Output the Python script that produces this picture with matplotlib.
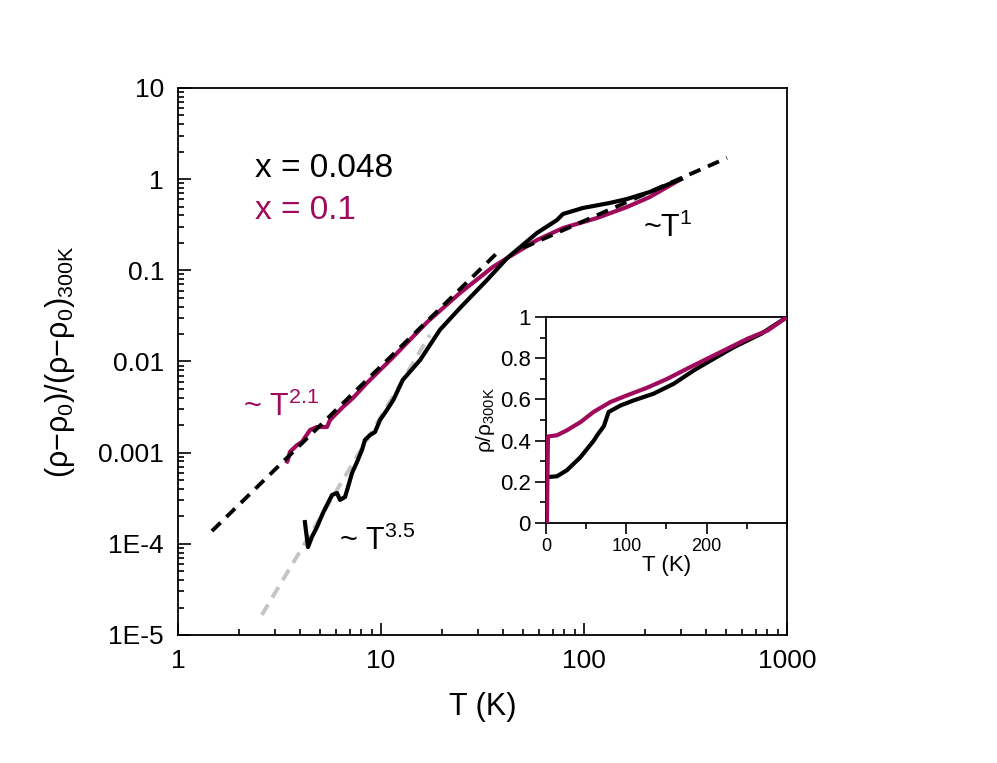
import numpy as np
import matplotlib as mpl
mpl.use('Agg')
import matplotlib.pyplot as plt
from matplotlib.ticker import FixedLocator, FixedFormatter, LogLocator, NullFormatter, MultipleLocator

mpl.rcParams.update({'font.family': ['Liberation Sans', 'DejaVu Sans'],
                     'mathtext.fontset': 'custom',
                     'mathtext.rm': 'Liberation Sans',
                     'mathtext.it': 'Liberation Sans:italic',
                     'mathtext.bf': 'Liberation Sans:bold'})

MAG = '#a00a5c'

# x = 0.048, normalised (rho-rho0)/(rho-rho0)_300K
T_048 = [4.22, 4.37, 4.57, 4.84, 5.18, 5.48, 5.74, 6.07, 6.28, 6.65, 6.88, 7.20, 7.62,
         8.06, 8.34, 8.83, 9.34, 9.89, 10.7, 11.5, 12.8, 15.6, 19.5, 24.5, 33.3, 41.8,
         58.7, 73.6, 78.8, 98.9, 134, 163, 211, 300]
r_048 = [1.73e-4, 9.2e-5, 1.19e-4, 1.53e-4, 2.18e-4, 2.80e-4, 3.43e-4, 3.61e-4, 3.03e-4,
         3.26e-4, 4.20e-4, 5.98e-4, 7.90e-4, 1.07e-3, 1.38e-3, 1.56e-3, 1.68e-3, 2.28e-3,
         2.94e-3, 3.78e-3, 6.27e-3, 0.0104, 0.0222, 0.0386, 0.0783, 0.136, 0.257, 0.356,
         0.415, 0.483, 0.548, 0.606, 0.723, 1.0]

# x = 0.1
T_01 = [3.45, 3.48, 3.56, 3.86, 4.08, 4.47, 4.84, 5.42, 5.61, 6.50, 7.28, 8.53, 11.5, 16.9,
        24.5, 35.6, 41.8, 58.7, 78.8, 116, 163, 211, 300]
r_01 = [8.0e-4, 8.3e-4, 1.02e-3, 1.21e-3, 1.31e-3, 1.77e-3, 1.91e-3, 1.91e-3, 2.28e-3,
        3.17e-3, 3.98e-3, 5.81e-3, 0.0112, 0.0271, 0.0564, 0.109, 0.136, 0.215, 0.291,
        0.375, 0.495, 0.637, 1.0]

# power-law guides (end points)
fit21_T = [1.47, 37.3]
fit21_r = [1.38e-4, 0.155]
fit1_T = [50, 506]
fit1_r = [0.176, 1.71]
fit35_T = [2.59, 17.4]
fit35_r = [1.66e-5, 0.0195]

# inset: rho/rho_300K vs T
Ti_048 = [2.0, 13.7, 26, 43, 59.5, 63.7, 72, 78, 93, 109, 134, 159, 184, 209, 234, 268, 300]
ri_048 = [0.223, 0.227, 0.256, 0.32, 0.40, 0.426, 0.47, 0.539, 0.571, 0.595, 0.628, 0.676,
          0.741, 0.798, 0.854, 0.919, 1.0]
Ti_01 = [1.2, 2.5, 13.7, 26, 43, 59.5, 80, 101, 126, 151, 176, 205, 234, 251, 276, 300]
ri_01 = [0.0, 0.42, 0.426, 0.45, 0.49, 0.54, 0.587, 0.62, 0.657, 0.70, 0.75, 0.806, 0.862,
         0.895, 0.935, 1.0]

yticks = [1e-5, 1e-4, 1e-3, 1e-2, 1e-1, 1, 10]
ylabels = ['1E-5', '1E-4', '0.001', '0.01', '0.1', '1', '10']
xticks = [1, 10, 100, 1000]
xlabels = ['1', '10', '100', '1000']

fig = plt.figure(figsize=(9.97, 7.63), dpi=100)
ax = fig.add_axes([0.1785, 0.1678, 0.6109, 0.7169])

dash = (3.1, 2.1)
ax.plot(fit35_T, fit35_r, color='#c4c4c4', lw=2.8, dashes=dash, zorder=1)
ax.plot(T_01, r_01, color=MAG, lw=3, zorder=2)
ax.plot(fit21_T, fit21_r, color='black', lw=2.8, dashes=dash, zorder=3)
ax.plot(fit1_T, fit1_r, color='black', lw=2.8, dashes=dash, zorder=3)
ax.plot(T_048, r_048, color='black', lw=3, zorder=4)

ax.set_xscale('log')
ax.set_yscale('log')
ax.set_xlim(1, 1000)
ax.set_ylim(1e-5, 10)
ax.yaxis.set_major_locator(FixedLocator(yticks))
ax.yaxis.set_major_formatter(FixedFormatter(ylabels))
ax.xaxis.set_major_locator(FixedLocator(xticks))
ax.xaxis.set_major_formatter(FixedFormatter(xlabels))
ax.xaxis.set_minor_locator(LogLocator(base=10, subs=np.arange(2, 10)))
ax.yaxis.set_minor_locator(LogLocator(base=10, subs=np.arange(2, 10)))
ax.xaxis.set_minor_formatter(NullFormatter())
ax.yaxis.set_minor_formatter(NullFormatter())
ax.tick_params(which='both', direction='in', top=False, right=False, labelsize=19, width=1.2)
ax.tick_params(which='major', length=9, pad=10)
ax.tick_params(which='minor', length=4.5)
for s in ax.spines.values():
    s.set_linewidth(1.3)

ax.set_xlabel('T (K)', fontsize=22, labelpad=14)
ax.set_ylabel('(ρ\u2212ρ$_0$)/(ρ\u2212ρ$_0$)$_{\\mathrm{300K}}$', fontsize=22, labelpad=15)

ax.text(0.127, 0.853, 'x = 0.048', transform=ax.transAxes, fontsize=24, color='black', va='center')
ax.text(0.127, 0.776, 'x = 0.1', transform=ax.transAxes, fontsize=24, color=MAG, va='center')
ax.text(2.1, 3.17e-3, r'~ T$^{\mathrm{2.1}}$', fontsize=22, color=MAG, va='center')
ax.text(6.2, 1.07e-4, r'~ T$^{\mathrm{3.5}}$', fontsize=22, color='black', va='center')
ax.text(195, 0.29, r'~T$^{\mathrm{1}}$', fontsize=22, color='black', va='center')

# inset
ins = fig.add_axes([0.5476, 0.3145, 0.2418, 0.2700])
ins.plot(Ti_048, ri_048, color='black', lw=3, zorder=2)
ins.plot(Ti_01, ri_01, color=MAG, lw=3, zorder=3)
ins.set_xlim(0, 300)
ins.set_ylim(0, 1)
ins.xaxis.set_major_locator(FixedLocator([0, 100, 200]))
ins.xaxis.set_minor_locator(MultipleLocator(50))
ins.yaxis.set_major_locator(MultipleLocator(0.2))
ins.yaxis.set_minor_locator(MultipleLocator(0.1))
ins.yaxis.set_major_formatter(mpl.ticker.FuncFormatter(lambda v, p: '%g' % round(v, 1)))
ins.tick_params(which='both', direction='out', top=False, right=False, width=1.2)
ins.tick_params(which='major', length=8, pad=3)
ins.tick_params(which='minor', length=4.5)
ins.tick_params(axis='y', labelsize=16)
ins.tick_params(axis='x', labelsize=13)
for s in ins.spines.values():
    s.set_linewidth(1.3)
ins.set_xlabel('T (K)', fontsize=16, labelpad=0)
ins.set_ylabel('ρ/ρ$_{\\mathrm{300K}}$', fontsize=15, labelpad=2)

fig.savefig('out.png', dpi=100)
